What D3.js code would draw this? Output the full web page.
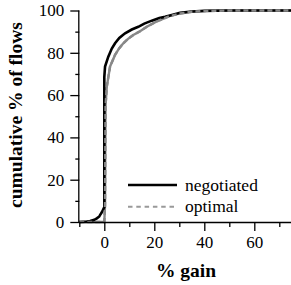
<!DOCTYPE html>
<html><head><meta charset="utf-8">
<script src="https://cdn.jsdelivr.net/npm/d3@7"></script>
<style>body{margin:0;background:#fff}svg{display:block}</style>
</head><body>
<script>
// Data (x = % gain, y = cumulative % of flows)
const negotiatedX = [-10,-7,-5.7,-4,-3,-2,-1.7,-1,-0.5,0,0,0.3,1.6,3,4.3,6,8.3,11,13.6,16,19,22,24.3,27,30.3,35,40,50,75];
const negotiatedY = [0,0.2,0.5,1.0,1.7,2.6,3.3,4.6,5.8,7,68.5,73.5,78.2,82,84.5,87,89.2,91,92.3,93.8,95.2,96.4,97,97.9,98.9,99.5,99.8,100,100];
const optimalX = [-10,0,0.3,0.5,1,2.3,4.3,6,7.6,9.5,11.6,14.3,17,20,22.3,26,30.3,35,41,50,75];
const optimalY = [0,0,8,55,64,73.5,79,82.2,84.5,86.6,88.4,90.2,92.3,94.2,95.5,97.3,98.6,99.4,99.8,100,100];
const xMajorTicks = [0,20,40,60];
const xMinorTicks = [-10,10,30,50,70];
const yMajorTicks = [0,20,40,60,80,100];
const yMinorTicks = [10,30,50,70,90];
const seriesNames = ["negotiated","optimal"];

const W=291,H=285;
const svg=d3.select("body").append("svg").attr("width",W).attr("height",H);
const x=d3.scaleLinear().domain([-10,75]).range([79.3,291.8]);
const y=d3.scaleLinear().domain([0,100]).range([222,10.5]);
const font="'Liberation Serif'";

const neg=negotiatedX.map((v,i)=>[v,negotiatedY[i]]);
const opt=optimalX.map((v,i)=>[v,optimalY[i]]);
const line=d3.line().x(d=>x(d[0])).y(d=>y(d[1]));

svg.append("path").datum(opt).attr("d",line).attr("fill","none")
  .attr("stroke","#888").attr("stroke-width",2.4);
svg.append("path").datum(neg).attr("d",line).attr("fill","none")
  .attr("stroke","#000").attr("stroke-width",2.6);
svg.append("path").datum(opt).attr("d",line).attr("fill","none")
  .attr("stroke","#888").attr("stroke-width",2.4).attr("stroke-dasharray","5,3");

// axes
const xAxis=svg.append("g").attr("transform","translate(0,222)");
xAxis.call(d3.axisBottom(x).tickValues(xMajorTicks).tickSize(9).tickPadding(5).tickFormat(d3.format("d")));
xAxis.append("g").call(d3.axisBottom(x).tickValues(xMinorTicks).tickSize(5).tickFormat(""));
const yAxis=svg.append("g").attr("transform","translate(79.3,0)");
yAxis.call(d3.axisLeft(y).tickValues(yMajorTicks).tickSize(9).tickPadding(6).tickFormat(d3.format("d")));
yAxis.append("g").call(d3.axisLeft(y).tickValues(yMinorTicks).tickSize(4).tickFormat(""));
svg.selectAll(".domain").attr("stroke","#000").attr("stroke-width",1.3);
svg.selectAll(".tick line").attr("stroke","#000").attr("stroke-width",1.3);
svg.selectAll(".domain").filter(function(){return this.parentNode.parentNode!==svg.node();}).remove();
svg.selectAll("g").attr("font-family",font).attr("font-size",17);
svg.selectAll(".tick text").style("font-family",font).style("font-size","17px").attr("fill","#000");
xAxis.selectAll(".domain").attr("d","M79.3,0.5H291");
yAxis.selectAll(".domain").attr("d","M-0.5,222V10.5");

// axis titles
svg.append("text").attr("x",186).attr("y",277).attr("text-anchor","middle")
  .style("font-family",font).style("font-weight","bold").style("font-size","19.5px").text("% gain");
svg.append("text").attr("transform","translate(22,115) rotate(-90)").attr("text-anchor","middle")
  .style("font-family",font).style("font-weight","bold").style("font-size","19.5px").text("cumulative % of flows");

// legend
const lg=svg.append("g");
lg.append("line").attr("x1",128).attr("x2",177).attr("y1",185).attr("y2",185)
  .attr("stroke","#000").attr("stroke-width",2.6);
lg.append("line").attr("x1",128).attr("x2",177).attr("y1",206.7).attr("y2",206.7)
  .attr("stroke","#999").attr("stroke-width",2).attr("stroke-dasharray","4.5,3.8");
lg.append("text").attr("x",185).attr("y",191).style("font-family",font).style("font-size","17.5px").text(seriesNames[0]);
lg.append("text").attr("x",185).attr("y",212).style("font-family",font).style("font-size","17.5px").text(seriesNames[1]);
</script>
</body></html>
